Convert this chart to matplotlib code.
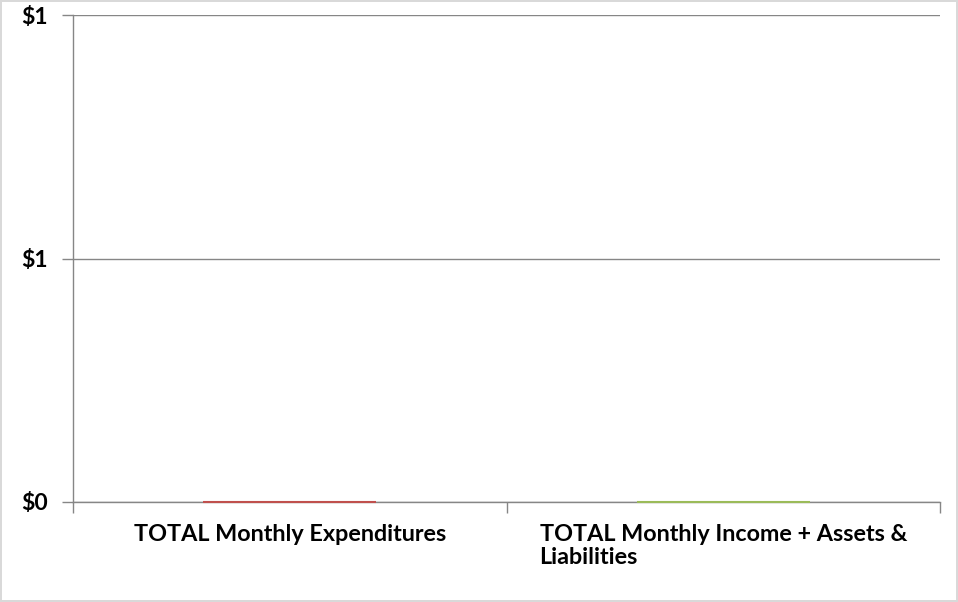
import matplotlib.pyplot as plt
from matplotlib.ticker import FixedLocator
import numpy as np

# chart data (both totals are zero in the reference)
categories = ["TOTAL Monthly Expenditures", "TOTAL Monthly Income + Assets &\nLiabilities"]
values = [0, 0]
bar_colors = ["#C0504D", "#9BBB59"]
y_ticks = [0, 0.5, 1]
y_tick_labels = ["$0", "$1", "$1"]

plt.rcParams['font.family'] = ['Lato', 'DejaVu Sans']

fig = plt.figure(figsize=(9.58, 6.02), dpi=100, linewidth=1.5, edgecolor="#D9D9D9")
ax = fig.add_axes([73 / 958, 100 / 602, 867 / 958, 487 / 602])

x = np.arange(len(categories))
ax.bar(x, values, width=0.4, color=bar_colors, edgecolor=bar_colors, linewidth=1.5,
       zorder=4, clip_on=False)

ax.set_xlim(-0.5, len(categories) - 0.5)
ax.set_ylim(0, 1)

axis_grey = "#868686"
ax.set_yticks(y_ticks)
ax.set_yticklabels(y_tick_labels, fontsize=16.5, fontweight='bold')
ax.yaxis.grid(True, color=axis_grey, linewidth=1.0)
ax.set_axisbelow(True)

# category labels between boundary ticks, like Excel
ax.xaxis.set_major_locator(FixedLocator(np.arange(len(categories) + 1) - 0.5))
ax.xaxis.set_minor_locator(FixedLocator(x))
ax.set_xticklabels([], minor=False)
ax.set_xticklabels(categories, minor=True, fontsize=16.8, fontweight='bold',
                   multialignment='left', linespacing=1.12)
ax.tick_params(axis='x', which='major', length=8, width=1, color=axis_grey)
ax.tick_params(axis='x', which='minor', length=0, pad=16)
ax.tick_params(axis='y', length=8, width=1, color=axis_grey, pad=10)

for side in ['top', 'right']:
    ax.spines[side].set_visible(False)
for side in ['left', 'bottom']:
    ax.spines[side].set_color(axis_grey)
    ax.spines[side].set_linewidth(1.0)

fig.savefig("out.png", dpi=100)
